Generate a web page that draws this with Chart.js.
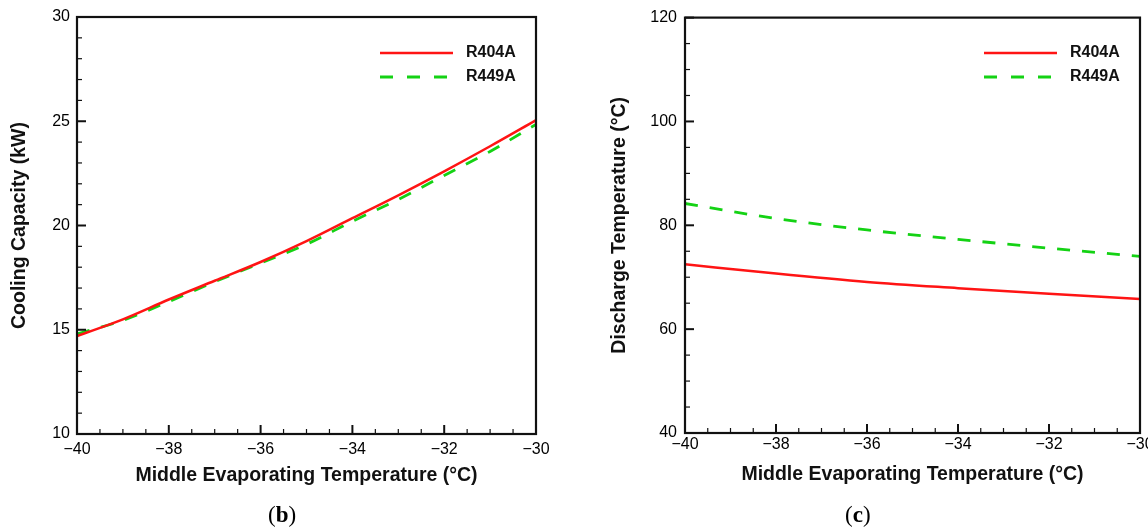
<!DOCTYPE html>
<html>
<head>
<meta charset="utf-8">
<script src="https://cdn.jsdelivr.net/npm/chart.js@4/dist/chart.umd.min.js"></script>
<style>
  html, body { margin: 0; padding: 0; background: #fff; overflow: hidden; }
  #wrap { position: relative; width: 1148px; height: 530px; overflow: hidden; }
  .box { position: absolute; top: 0; height: 530px; }
  .cap { position: absolute; top: 502px; font-family: "Liberation Serif", "DejaVu Serif", serif; font-size: 23px; color: #000; }
</style>
</head>
<body>
<div id="wrap">
  <div class="box" style="left:0;width:574px"><canvas id="chartB"></canvas></div>
  <div class="box" style="left:574px;width:600px"><canvas id="chartC"></canvas></div>
  <div class="cap" style="left:268px">(<b>b</b>)</div>
  <div class="cap" style="left:845px">(<b>c</b>)</div>
</div>
<script>
// middle evaporating temperature (°C)
const tempB = [-40, -39, -38, -37, -36, -35, -34, -33, -32, -31, -30];
const tempC = [-40, -38, -36, -34, -32, -30];

// (b) cooling capacity, kW
const capR404A = [14.7, 15.5, 16.45, 17.35, 18.25, 19.25, 20.35, 21.45, 22.6, 23.8, 25.05];
const capR449A = [14.8, 15.45, 16.35, 17.3, 18.2, 19.1, 20.2, 21.25, 22.4, 23.55, 24.85];

// (c) discharge temperature, °C
const disR404A = [72.5, 70.7, 69.1, 67.9, 66.8, 65.8];
const disR449A = [84.2, 81.3, 79.1, 77.3, 75.6, 74.0];

const seriesNames = ['R404A', 'R449A'];

function pts(xs, ys) {
  return xs.map((x, i) => ({ x: x, y: ys[i] }));
}

const minus = v => String(v).replace('-', '\u2212');

// box, inward ticks and legend drawn like the original figure
const framePlugin = {
  id: 'frame',
  afterDatasetsDraw(chart, args, opts) {
    const ctx = chart.ctx;
    const ca = chart.chartArea;
    const xs = chart.scales.x, ys = chart.scales.y;
    ctx.save();
    ctx.strokeStyle = '#111';
    for (let v = xs.min; v <= xs.max + 1e-6; v += opts.xMinor) {
      const px = xs.getPixelForValue(v);
      const major = Math.abs(Math.round(v / 2) * 2 - v) < 1e-6;
      ctx.lineWidth = major ? 2 : 1.2;
      ctx.beginPath();
      ctx.moveTo(px, ca.bottom);
      ctx.lineTo(px, ca.bottom - (major ? 9 : 5));
      ctx.stroke();
    }
    for (let v = ys.min; v <= ys.max + 1e-6; v += opts.yMinor) {
      const py = ys.getPixelForValue(v);
      const major = Math.abs(Math.round(v / opts.yMajor) * opts.yMajor - v) < 1e-6;
      ctx.lineWidth = major ? 2 : 1.2;
      ctx.beginPath();
      ctx.moveTo(ca.left, py);
      ctx.lineTo(ca.left + (major ? 9 : 5), py);
      ctx.stroke();
    }
    ctx.lineWidth = 2.2;
    ctx.strokeRect(ca.left, ca.top, ca.right - ca.left, ca.bottom - ca.top);

    // legend
    ctx.font = 'bold 16px "Liberation Sans", Arial, sans-serif';
    ctx.textBaseline = 'middle';
    ctx.fillStyle = '#111';
    chart.data.datasets.forEach((ds, i) => {
      const y = 53 + i * 24;
      ctx.strokeStyle = ds.borderColor;
      ctx.lineWidth = ds.borderWidth;
      ctx.setLineDash([13, 14]);
      if (!ds.borderDash) ctx.setLineDash([]);
      ctx.beginPath();
      ctx.moveTo(ca.right - 156, y);
      ctx.lineTo(ca.right - 83, y);
      ctx.stroke();
      ctx.setLineDash([]);
      ctx.fillText(ds.label, ca.right - 70, y);
    });
    ctx.restore();
  }
};

function makeChart(id, xs, s1, s2, cfg) {
  return new Chart(document.getElementById(id), {
    type: 'scatter',
    data: {
      datasets: [
        {
          label: seriesNames[0],
          data: pts(xs, s1),
          showLine: true,
          borderColor: '#ff1414',
          borderWidth: 2.5,
          pointRadius: 0,
          cubicInterpolationMode: 'monotone'
        },
        {
          label: seriesNames[1],
          data: pts(xs, s2),
          showLine: true,
          borderColor: '#14d214',
          borderWidth: 2.8,
          borderDash: [13, 12],
          pointRadius: 0,
          cubicInterpolationMode: 'monotone'
        }
      ]
    },
    options: {
      responsive: true,
      maintainAspectRatio: false,
      animation: false,
      layout: { padding: cfg.padding },
      plugins: {
        legend: { display: false },
        tooltip: { enabled: false },
        frame: { xMinor: 0.5, yMinor: cfg.yMinor, yMajor: cfg.yStep }
      },
      scales: {
        x: {
          type: 'linear',
          min: -40,
          max: -30,
          grid: { display: false, drawTicks: false },
          border: { display: false },
          ticks: {
            stepSize: 2,
            padding: cfg.xPad,
            color: '#000',
            font: { family: '"Liberation Sans", Arial, sans-serif', size: 16 },
            callback: v => minus(v)
          },
          title: {
            display: true,
            text: 'Middle Evaporating Temperature (°C)',
            color: '#111',
            padding: 0,
            font: { family: '"Liberation Sans", Arial, sans-serif', size: 19.5, weight: 'bold' }
          },
          afterFit: s => { s.height = 53; }
        },
        y: {
          min: cfg.yMin,
          max: cfg.yMax,
          grid: { display: false, drawTicks: false },
          border: { display: false },
          ticks: {
            stepSize: cfg.yStep,
            padding: cfg.yPad,
            color: '#000',
            font: { family: '"Liberation Sans", Arial, sans-serif', size: 16 }
          },
          title: {
            display: true,
            text: cfg.yTitle,
            color: '#111',
            padding: { top: cfg.yTitlePad, bottom: 0 },
            font: { family: '"Liberation Sans", Arial, sans-serif', size: 19.5, weight: 'bold' }
          },
          afterFit: s => { s.width = cfg.yWidth; }
        }
      }
    },
    plugins: [framePlugin]
  });
}

makeChart('chartB', tempB, capR404A, capR449A, {
  padding: { left: 0, right: 38, top: 17, bottom: 43 },
  yMin: 10, yMax: 30, yStep: 5, yMinor: 1,
  yTitle: 'Cooling Capacity (kW)',
  yWidth: 77, yTitlePad: 8, yPad: 7, xPad: 6
});

makeChart('chartC', tempC, disR404A, disR449A, {
  padding: { left: 0, right: 34, top: 17, bottom: 44 },
  yMin: 40, yMax: 120, yStep: 20, yMinor: 5,
  yTitle: 'Discharge Temperature (°C)',
  yWidth: 111, yTitlePad: 34, yPad: 8, xPad: 2
});
</script>
</body>
</html>
